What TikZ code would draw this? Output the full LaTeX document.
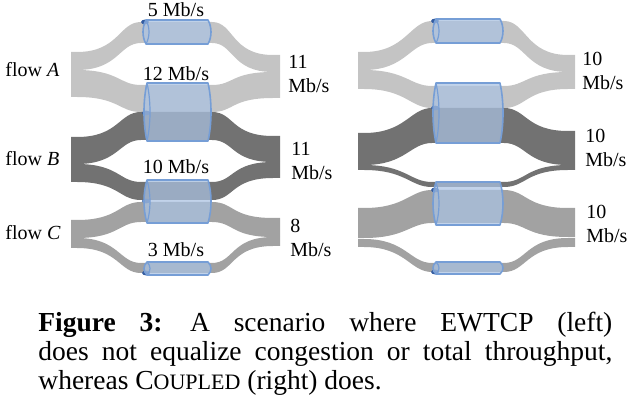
\documentclass[tikz,border=0pt]{standalone}
\usepackage{fontspec}
\setmainfont{Liberation Serif}
\usetikzlibrary{calc}
\definecolor{flowA}{RGB}{196,196,196}
\definecolor{flowB}{RGB}{114,114,114}
\definecolor{flowC}{RGB}{162,162,162}
\definecolor{tubefill}{RGB}{170,194,226}
\definecolor{tubeline}{RGB}{118,158,214}
\definecolor{tubedark}{RGB}{52,92,160}
\tikzset{
    pxbase/.style={x=0.5pt, y={(0pt,-0.5pt)}},
    tubebody/.style={fill=tubefill, fill opacity=0.72, draw=tubeline, line width=0.8pt, line join=round},
    tubeface/.style={draw=tubeline, line width=0.6pt},
    tubeshade/.style={fill=tubedark},
    ratelabel/.style={font=\fontsize{10}{12}\selectfont, inner sep=0pt, anchor=base},
    flowlabel/.style={font=\fontsize{10}{12}\selectfont, inner sep=0pt, anchor=base west},
    sumlabel/.style={font=\fontsize{10}{12}\selectfont, inner sep=0pt, align=left, anchor=north west},
    captext/.style={font=\fontsize{13.75}{14.5}\selectfont, inner sep=0pt, text width=287pt, align=justify, anchor=north west},
}
% band of one subflow: colour, left top/bottom, tube top/bottom, right top/bottom
\newcommand{\flowband}[7]{%
  \fill[#1] (\xL,#2) -- (\xa,#2) .. controls (\xa+42,#2) and (\xb-22,#4) .. (\xb,#4)
    -- (\xc,#4) .. controls (\xc+22,#4) and (\xd-42,#6) .. (\xd,#6) -- (\xR,#6)
    -- (\xR,#7) -- (\xd,#7) .. controls (\xd-42,#7) and (\xc+22,#5) .. (\xc,#5)
    -- (\xb,#5) .. controls (\xb-22,#5) and (\xa+42,#3) .. (\xa,#3) -- (\xL,#3) -- cycle;}
% link drawn as a glass tube: left, right, top, bottom, y of the dark fleck
\newcommand{\pipetube}[5]{%
  \fill[tubeshade] (#1-1,#5) ellipse [x radius=2pt, y radius=1.2pt];
  \draw[tubebody] (#1,#3) -- (#2,#3)
    .. controls (#2+4,{#3+0.3*(#4-#3)}) and (#2+4,{#4-0.3*(#4-#3)}) .. (#2,#4) -- (#1,#4)
    .. controls (#1-4,{#4-0.3*(#4-#3)}) and (#1-4,{#3+0.3*(#4-#3)}) .. (#1,#3) -- cycle;
  \draw[tubeface] (#1,#3) .. controls (#1+4,{#3+0.3*(#4-#3)}) and (#1+4,{#4-0.3*(#4-#3)}) .. (#1,#4);}

\begin{document}
\begin{tikzpicture}[pxbase]
\useasboundingbox (0,0) rectangle (628,406);

% ===================== LEFT: EWTCP =====================
\def\xL{71}\def\xa{77}\def\xb{141}\def\xc{212}\def\xd{273}\def\xR{280}
\flowband{flowA}{52}{70}{22}{43}{55}{72}
\flowband{flowA}{70}{97}{85}{112}{72}{98}
\flowband{flowB}{137}{164}{112}{140}{136}{162}
\flowband{flowB}{164}{182}{182}{200}{162}{178}
\flowband{flowC}{220}{238}{202}{222}{218}{237}
\flowband{flowC}{238}{248}{263}{273}{237}{246}

\pipetube{146}{208}{20}{44}{22}
\pipetube{147}{208}{83}{141}{113}
\pipetube{147}{208}{180}{223}{201}
\pipetube{147}{208}{262}{275}{273}

\node[flowlabel] (l_fa) at (5,77) {flow \textit{A}};
\node[flowlabel] (l_fb) at (5,166) {flow \textit{B}};
\node[flowlabel] (l_fc) at (5,240) {flow \textit{C}};

\node[ratelabel] (l_r1) at (176,17) {5 Mb/s};
\node[ratelabel] (l_r2) at (176,81) {12 Mb/s};
\node[ratelabel] (l_r3) at (176,174) {10 Mb/s};
\node[ratelabel] (l_r4) at (176,257) {3 Mb/s};

\node[sumlabel] (l_sa) at (288,55) {11\\Mb/s};
\node[sumlabel] (l_sb) at (291,142) {11\\Mb/s};
\node[sumlabel] (l_sc) at (290,219) {8\\Mb/s};

% ===================== RIGHT: COUPLED =====================
\def\xL{358}\def\xa{364}\def\xb{432}\def\xc{504}\def\xd{568}\def\xR{575}
\flowband{flowA}{52}{70}{21}{43}{55}{72}
\flowband{flowA}{70}{89}{86}{108}{72}{89}
\flowband{flowB}{133}{165}{108}{143}{131}{165}
\flowband{flowB}{165}{170}{182}{187}{165}{170}
\flowband{flowC}{208}{238}{190}{223}{208}{237}
\flowband{flowC}{239}{247}{263}{272}{238}{247}

\pipetube{436}{500}{19}{43}{21}
\pipetube{436}{500}{83}{143}{108}
\pipetube{436}{500}{182}{225}{190}
\pipetube{436}{500}{262}{274}{272}

\node[sumlabel] (r_sa) at (582,52) {10\\Mb/s};
\node[sumlabel] (r_sb) at (585,129) {10\\Mb/s};
\node[sumlabel] (r_sc) at (586,205) {10\\Mb/s};

% ===================== CAPTION =====================
\node[captext] (cap) at (38,312) {\textbf{Figure 3:}\quad A scenario where EWTCP (left)\linebreak
does not equalize congestion or total throughput,\linebreak
whereas C{\fontsize{11}{14.5}\selectfont OUPLED} (right) does.};

\end{tikzpicture}
\end{document}
